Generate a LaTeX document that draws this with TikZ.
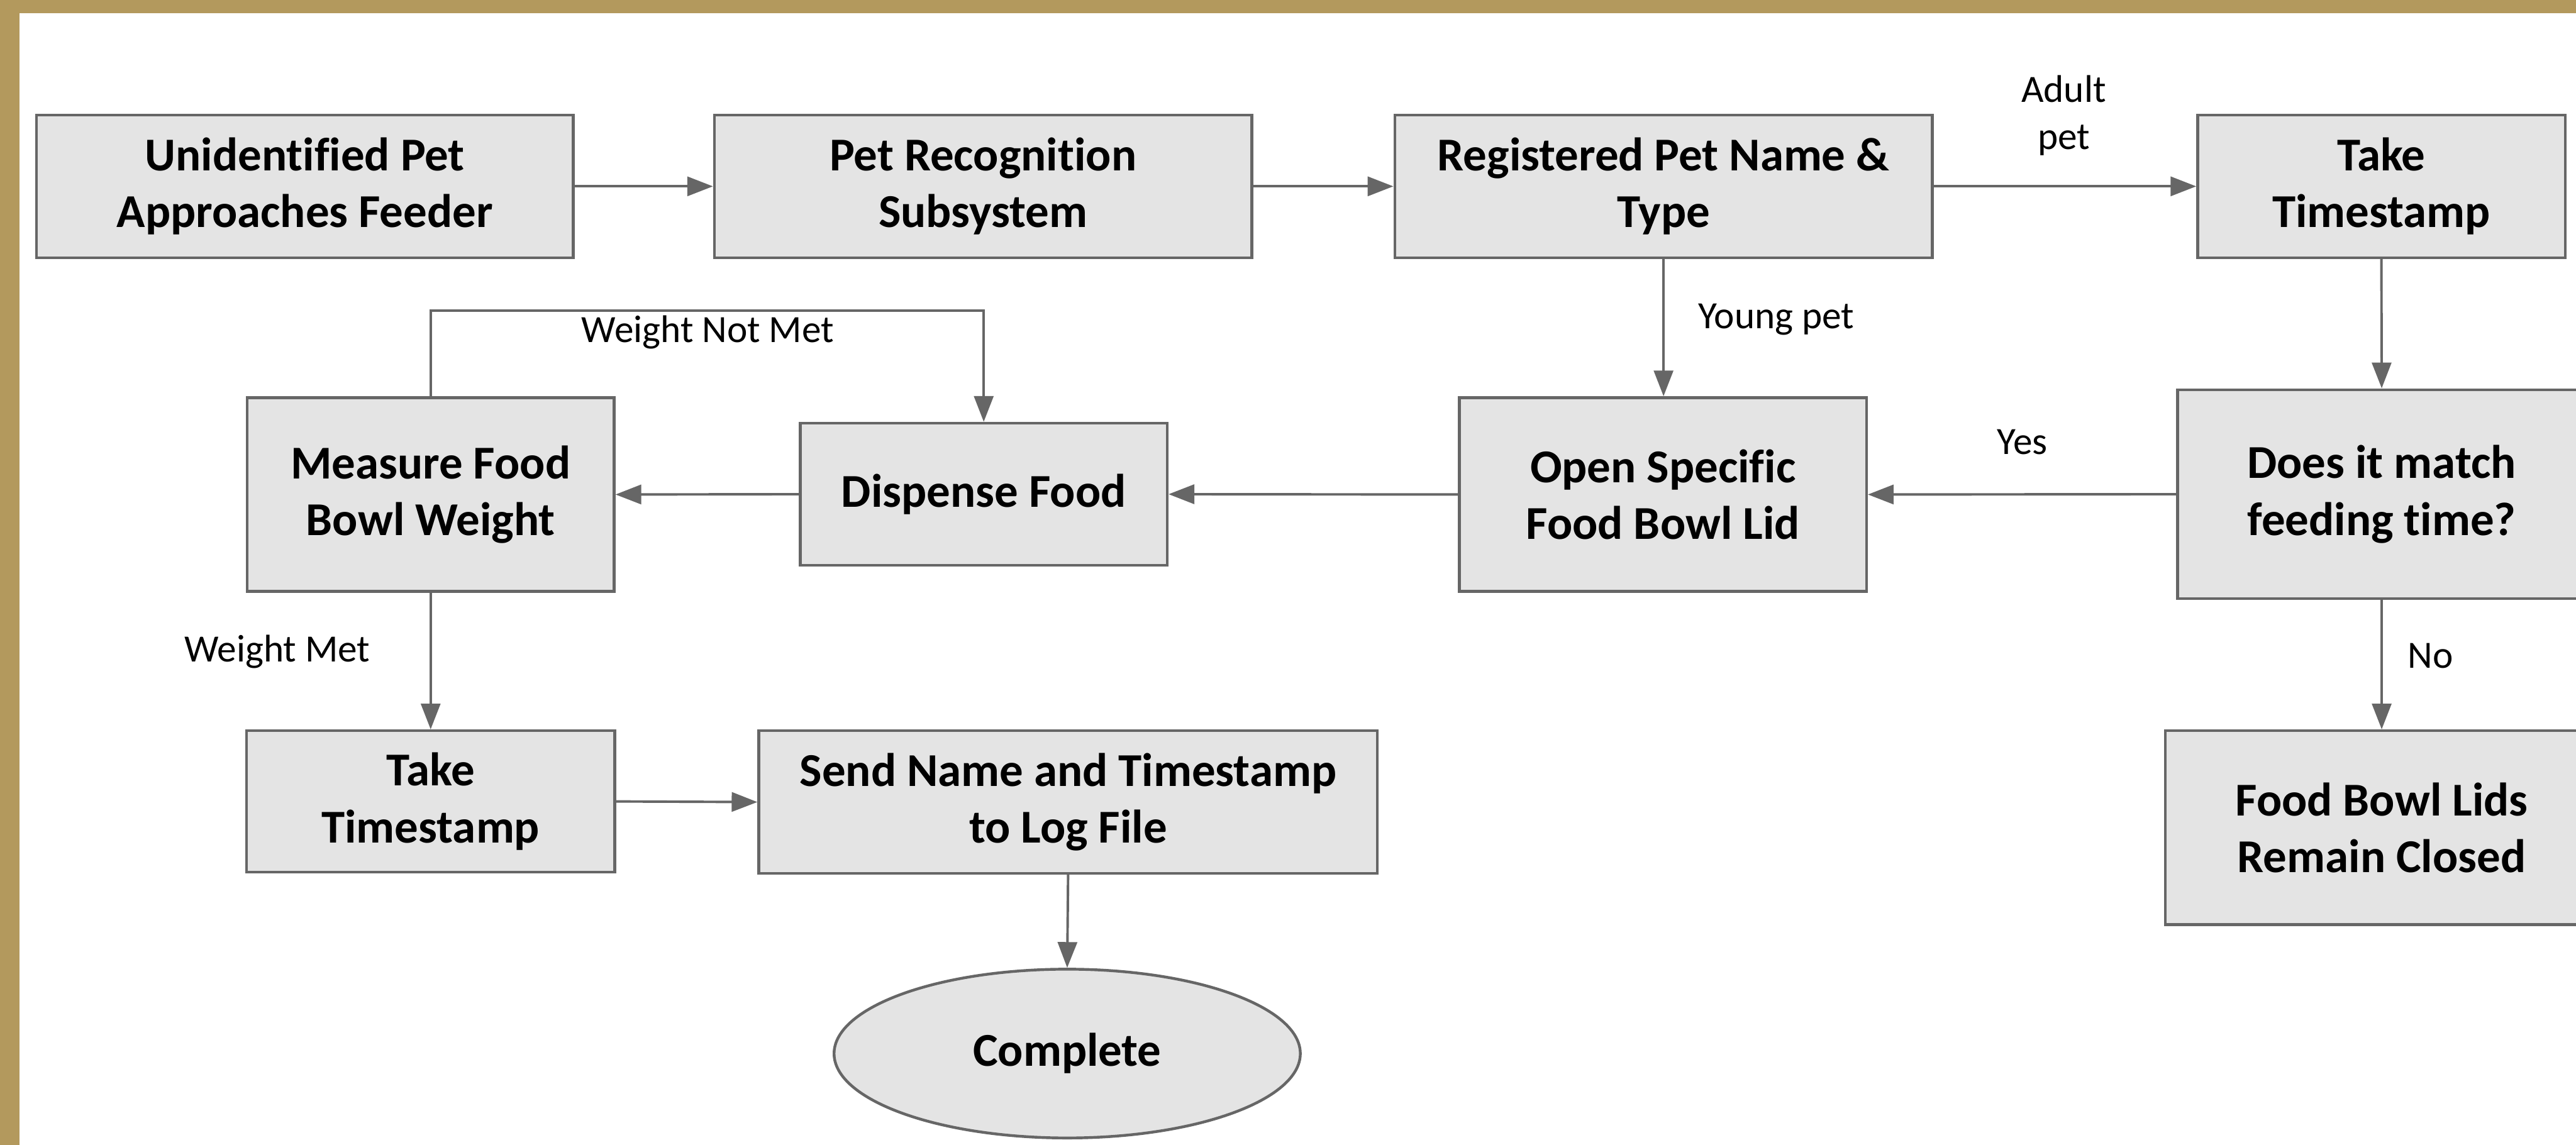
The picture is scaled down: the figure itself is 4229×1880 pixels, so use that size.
\documentclass[tikz,border=0pt]{standalone}
\usepackage{fontspec}
\setmainfont{Carlito}[Ligatures=NoCommon]
\usetikzlibrary{arrows.meta,shapes.geometric}
\definecolor{gold}{HTML}{B3995D}
\definecolor{boxfill}{HTML}{E4E4E4}
\definecolor{linegray}{HTML}{666666}
\begin{document}
\begin{tikzpicture}[x=0.01cm,y=-0.01cm,
  box/.style={draw=linegray, line width=1.3pt, fill=boxfill, align=center,
    font=\fontsize{22}{26.5}\selectfont\bfseries, inner sep=0pt},
  lbl/.style={font=\fontsize{18}{22}\selectfont, inner sep=0pt, align=center},
  conn/.style={draw=linegray, line width=1.15pt, -{Triangle[length=12pt,width=9pt]}}
]
\useasboundingbox (0,0) rectangle (4229,1880);
\clip (0,0) rectangle (4229,1880);
\fill[white] (0,0) rectangle (4229,1880);
\fill[gold] (0,0) rectangle (4229,22);
\fill[gold] (0,0) rectangle (32,1880);

\node[box, minimum width=8.81cm, minimum height=2.34cm] (n1) at (500.5,306) {Unidentified Pet\\Approaches Feeder};
\node[box, minimum width=8.82cm, minimum height=2.34cm] (n2) at (1614,306) {Pet Recognition\\Subsystem};
\node[box, minimum width=8.82cm, minimum height=2.34cm] (n3) at (2731,306) {Registered Pet Name \&\\Type};
\node[box, minimum width=6.03cm, minimum height=2.34cm] (n4) at (3909.5,306) {Take\\Timestamp};
\node[box, minimum width=6.70cm, minimum height=3.43cm] (n5) at (3910,811.5) {Does it match\\feeding time?};
\node[box, minimum width=7.10cm, minimum height=3.18cm] (n6) at (3910,1359) {Food Bowl Lids\\Remain Closed};
\node[box, minimum width=6.68cm, minimum height=3.18cm] (n7) at (2730,812) {Open Specific\\Food Bowl Lid};
\node[box, minimum width=6.02cm, minimum height=2.33cm] (n8) at (1615,811.5) {Dispense Food};
\node[box, minimum width=6.02cm, minimum height=3.18cm] (n9) at (707,812) {Measure Food\\Bowl Weight};
\node[box, minimum width=6.04cm, minimum height=2.32cm] (n10) at (707,1316) {Take\\Timestamp};
\node[box, minimum width=10.15cm, minimum height=2.34cm] (n11) at (1753.5,1317) {Send Name and Timestamp\\to Log File};
\node[box, ellipse, minimum width=7.65cm, minimum height=2.77cm] (n12) at (1752,1730) {Complete};

\coordinate (loopy) at (0,510);

\draw[conn] (n1.east) -- (n2.west);
\draw[conn] (n2.east) -- (n3.west);
\draw[conn] (n3.east) -- (n4.west);
\draw[conn] (n4.south) -- (n5.north);
\draw[conn] (n5.west) -- (n7.east);
\draw[conn] (n3.south) -- (n3.south |- n7.north);
\draw[conn] (n7.west) -- (n8.east);
\draw[conn] (n8.west) -- (n9.east);
\draw[conn] (n9.north) -- (n9.north |- loopy) -| (n8.north);
\draw[conn] (n9.south) -- (n10.north);
\draw[conn] (n10.east) -- (n11.west);
\draw[conn] (n11.south) -- (n12.north);
\draw[conn] (n5.south) -- (n6.north);

\node[lbl] (lAdult) at (3388,190) {Adult\\pet};
\node[lbl, anchor=base] (lYoung) at (2916,539) {Young pet};
\node[lbl, anchor=base] (lYes) at (3320,746) {Yes};
\node[lbl, anchor=base] (lNo) at (3990,1097) {No};
\node[lbl, anchor=base] (lWNM) at (1162,562) {Weight Not Met};
\node[lbl, anchor=base] (lWM) at (455,1087) {Weight Met};
\end{tikzpicture}
\end{document}
